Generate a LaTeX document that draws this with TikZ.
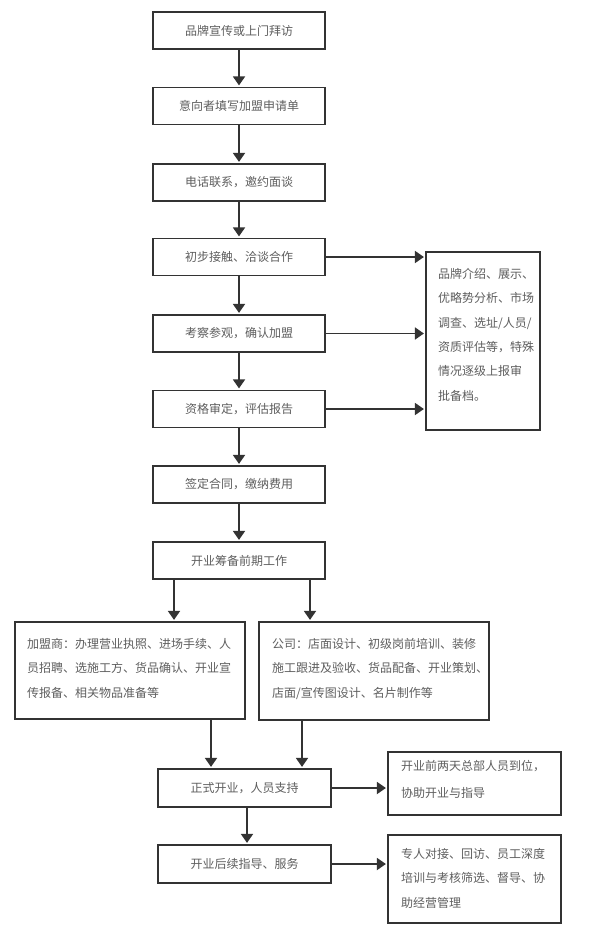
\documentclass[tikz,border=0pt]{standalone}
\usepackage{fontspec}
\setmainfont{Noto Sans CJK SC}
\usetikzlibrary{arrows.meta}
\definecolor{txt}{HTML}{5E5E5E}
\definecolor{ln}{HTML}{333333}
\begin{document}
\begin{tikzpicture}[x=1pt,y=-1pt,
  box/.style={draw=ln, line width=1.2pt, rectangle, inner sep=0pt, text=txt,
    font=\fontsize{12}{14}\selectfont},
  sbox/.style={box, minimum width=172pt, minimum height=37pt},
  para/.style={inner sep=0pt, align=left, text=txt, font=\fontsize{12}{24.4}\selectfont},
  arr/.style={draw=ln, line width=1.8pt, -{Triangle[width=12pt,length=9pt]}, shorten >=1.5pt}]
\useasboundingbox[fill=white] (0,0) rectangle (600,944);
% main column
\node[sbox] (b1) at (239,30.5) {品牌宣传或上门拜访};
\node[sbox] (b2) at (239,106) {意向者填写加盟申请单};
\node[sbox] (b3) at (239,182.5) {电话联系，邀约面谈};
\node[sbox] (b4) at (239,257) {初步接触、洽谈合作};
\node[sbox] (b5) at (239,333.5) {考察参观，确认加盟};
\node[sbox] (b6) at (239,409) {资格审定，评估报告};
\node[sbox] (b7) at (239,484.5) {签定合同，缴纳费用};
\node[sbox] (b8) at (239,560.5) {开业筹备前期工作};
% side box
\node[box, minimum width=114pt, minimum height=178pt] (side) at (483,341) {};
\node[para, anchor=north west] (tside) at (438,268) {品牌介绍、展示、\\优略势分析、市场\\调查、选址/人员/\\资质评估等，特殊\\情况逐级上报审\\批备档。};
% two boxes
\node[box, minimum width=230pt, minimum height=97pt] (lb) at (130,670.5) {};
\node[para, anchor=north west] (tlb) at (27,638) {加盟商：办理营业执照、进场手续、人\\员招聘、选施工方、货品确认、开业宣\\传报备、相关物品准备等};
\node[box, minimum width=230pt, minimum height=98pt] (rb) at (374,671) {};
\node[para, anchor=north west] (trb) at (272,638) {公司：店面设计、初级岗前培训、装修\\施工跟进及验收、货品配备、开业策划、\\店面/宣传图设计、名片制作等};
% lower
\node[box, minimum width=173pt, minimum height=38pt] (b9) at (244.5,788) {正式开业，人员支持};
\node[box, minimum width=173pt, minimum height=38pt] (b10) at (244.5,864) {开业后续指导、服务};
\node[box, minimum width=173pt, minimum height=63pt] (na) at (474.5,783.5) {};
\node[para, anchor=north west, font=\fontsize{12}{26.7}\selectfont] (tna) at (401,760) {开业前两天总部人员到位，\\协助开业与指导};
\node[box, minimum width=173pt, minimum height=88pt] (nb) at (474.5,879) {};
\node[para, anchor=north west] (tnb) at (401,848) {专人对接、回访、员工深度\\培训与考核筛选、督导、协\\助经营管理};
% connectors
\draw[arr] (b1) -- (b2);
\draw[arr] (b2) -- (b3);
\draw[arr] (b3) -- (b4);
\draw[arr] (b4) -- (b5);
\draw[arr] (b5) -- (b6);
\draw[arr] (b6) -- (b7);
\draw[arr] (b7) -- (b8);
\draw[arr] (b4.east) -- (b4.east -| side.west);
\draw[arr] (b5.east) -- (b5.east -| side.west);
\draw[arr] (b6.east) -- (b6.east -| side.west);
\draw[arr] (b8.south -| 174,0) -- (lb.north -| 174,0);
\draw[arr] (b8.south -| 310,0) -- (rb.north -| 310,0);
\draw[arr] (lb.south -| 211,0) -- (b9.north -| 211,0);
\draw[arr] (rb.south -| 302,0) -- (b9.north -| 302,0);
\draw[arr] (b9.south -| 247,0) -- (b10.north -| 247,0);
\draw[arr] (b9.east) -- (b9.east -| na.west);
\draw[arr] (b10.east) -- (b10.east -| nb.west);
\end{tikzpicture}
\end{document}
